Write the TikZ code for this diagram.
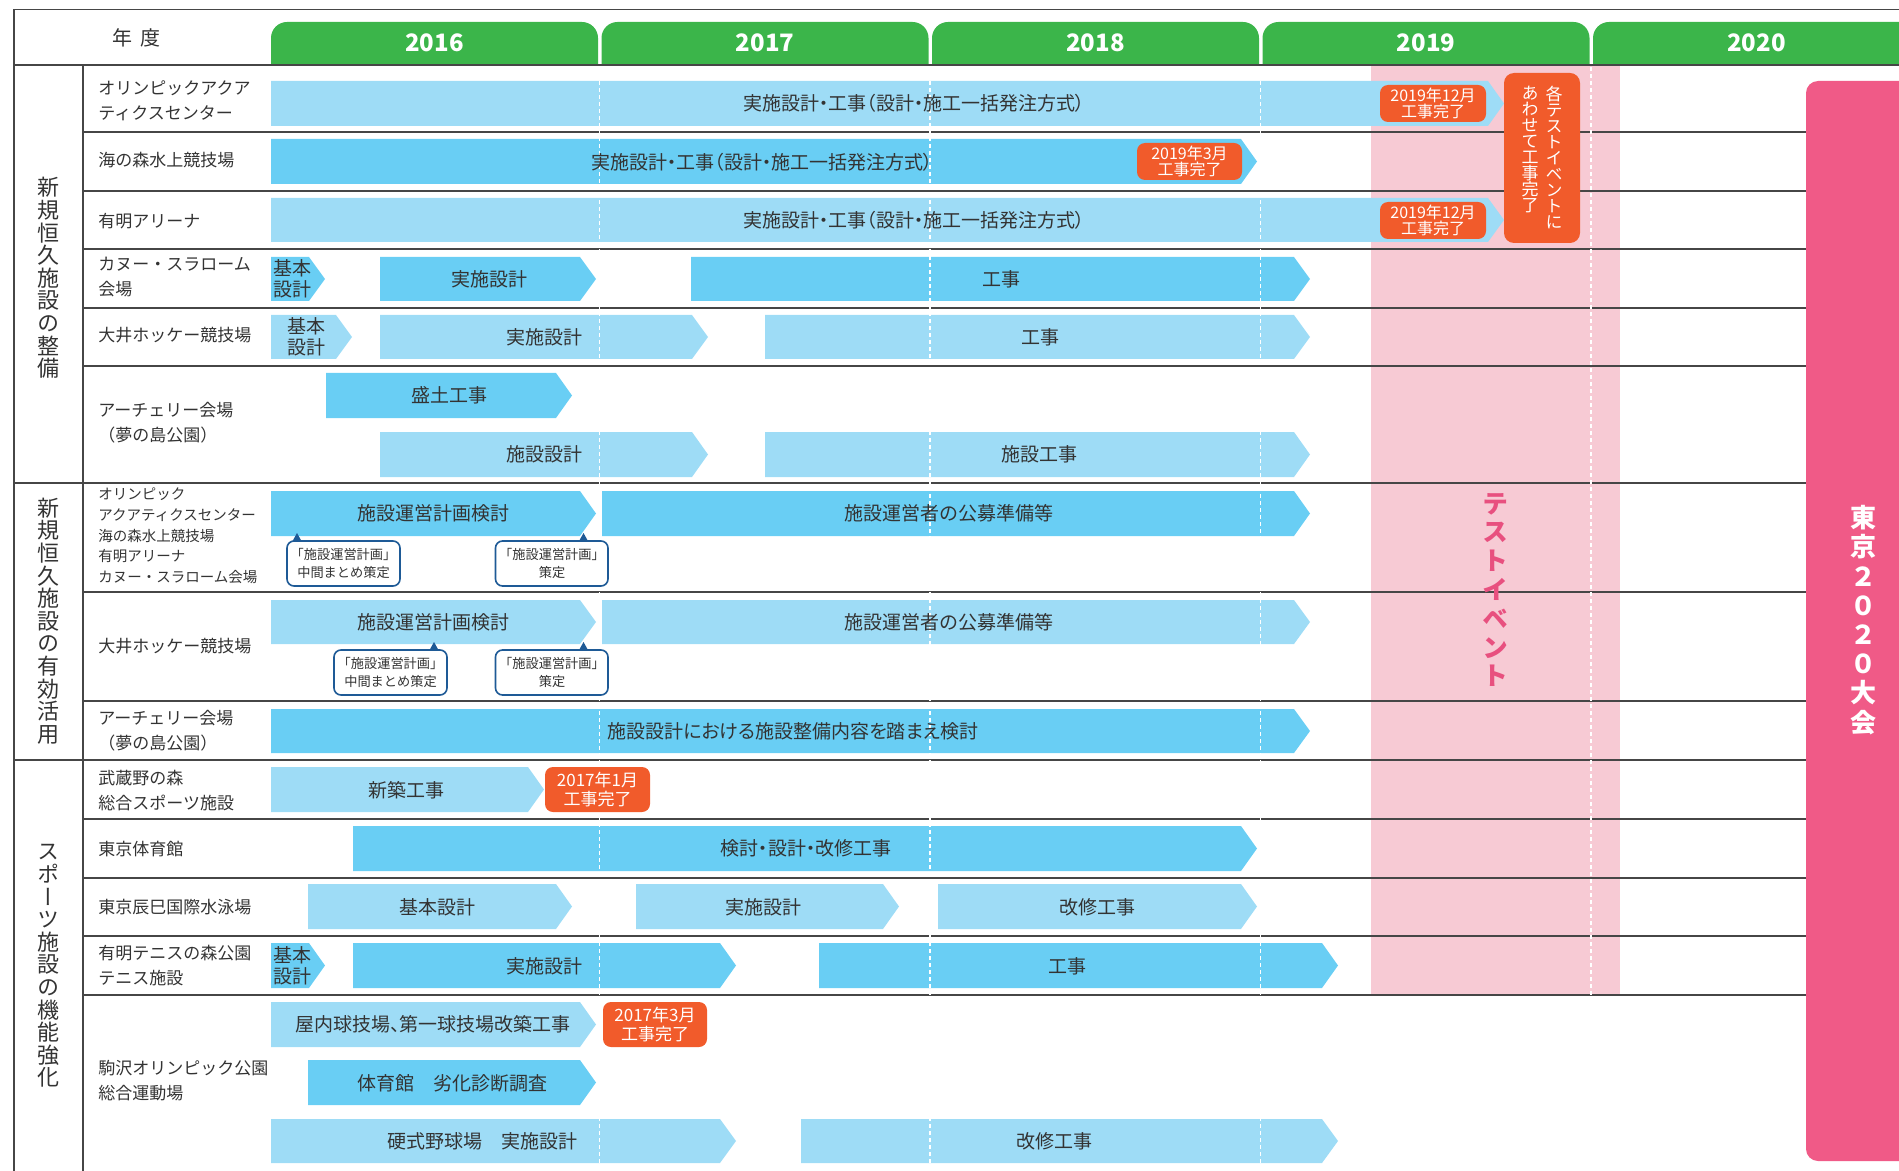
\documentclass[tikz,border=0pt]{standalone}
\usepackage{fontspec}
\setmainfont{Noto Sans CJK JP}
\newfontfamily\paltfont{Noto Sans CJK JP}[RawFeature=+palt]
\newfontfamily\tatefont{Noto Sans CJK JP}[RawFeature=+vert]
\usetikzlibrary{positioning}

\definecolor{yeargreen}{RGB}{59,181,74}
\definecolor{lightbar}{RGB}{158,220,246}
\definecolor{darkbar}{RGB}{105,206,244}
\definecolor{testpink}{RGB}{247,202,212}
\definecolor{gamepink}{RGB}{240,90,135}
\definecolor{eventpink}{RGB}{232,80,127}
\definecolor{doneorange}{RGB}{241,91,43}
\definecolor{noteblue}{RGB}{30,90,150}
\definecolor{txtgray}{RGB}{51,51,51}
\definecolor{rulegray}{RGB}{70,70,70}

% phase bar: colour, left x, x where the point starts, top y, bottom y
\newcommand{\phase}[5]{\fill[#1] (#2,#4) -- (#3,#4) -- ({#3+16},{(#4+#5)/2}) -- (#3,#5) -- (#2,#5) -- cycle;}
% note box: left x, right x, top y, pointer x, pointer tip y
\newcommand{\notebox}[5]{%
  \fill[noteblue] ({#4-5},{#3+1}) -- (#4,#5) -- ({#4+5},{#3+1}) -- cycle;
  \draw[noteblue, line width=0.8pt, fill=white, rounded corners=3.5pt] (#1,#3) rectangle (#2,{#3+45});}

\begin{document}
\begin{tikzpicture}[x=0.5pt, y=-0.5pt]
\tikzstyle{rowlabel}=[anchor=west, inner sep=0, align=left, text=txtgray, font=\fontsize{8.5}{12.5}\selectfont]
\tikzstyle{phasetext}=[inner sep=0, align=center, text=txtgray, font=\paltfont\fontsize{9.5}{10.5}\selectfont]
\tikzstyle{donetext}=[inner sep=0, align=center, text=white, font=\fontsize{8}{7.8}\selectfont]
\tikzstyle{notetext}=[inner sep=0, align=center, text=txtgray, font=\fontsize{6.6}{8.8}\selectfont]
\tikzstyle{category}=[inner sep=0, align=center, text=txtgray, font=\tatefont\fontsize{11}{11.3}\selectfont]
\tikzstyle{yeartext}=[inner sep=0, text=white, font=\fontsize{12}{12}\selectfont\bfseries]
\tikzstyle{rule}=[rulegray, line width=0.6pt]
\tikzstyle{done}=[fill=doneorange, rounded corners=4pt]

\useasboundingbox (0,0) rectangle (1899,1171);

\fill[testpink] (1371,65) rectangle (1620,995);

\foreach \yr [count=\i from 0] in {2016,2017,2018,2019,2020} {
  \fill[yeargreen] ({271+330.5*\i},65) [rounded corners=8pt] -- ({271+330.5*\i},22)
    -- ({598+330.5*\i},22) [sharp corners] -- ({598+330.5*\i},65) -- cycle;
  \node[yeartext] (y\yr) at ({434.5+330.5*\i},43) {\yr};
}
\node[text=txtgray, font=\fontsize{10}{10}\selectfont] (nendo) at (136,38) {年\hspace{4pt}度};

\draw[rule] (14,9.5) -- (1899,9.5);
\draw[rule] (14,9.5) -- (14,1171);
\draw[rule] (14,65) -- (1899,65);
\draw[rule] (83,65) -- (83,1171);
\foreach \y in {132,191,249,308,366,592,701,819,878,936,995}
  \draw[rule] (83,\y) -- (1899,\y);
\foreach \y in {483,760}
  \draw[rule] (14,\y) -- (1899,\y);

\phase{lightbar}{271}{1488}{81}{126}
\phase{darkbar}{271}{1241}{139}{184}
\phase{lightbar}{271}{1488}{198}{242}
\phase{darkbar}{271}{309}{257}{301}
\phase{darkbar}{380}{580}{257}{301}
\phase{darkbar}{691}{1294}{257}{301}
\phase{lightbar}{271}{336}{315}{359}
\phase{lightbar}{380}{692}{315}{359}
\phase{lightbar}{765}{1294}{315}{359}
\phase{darkbar}{326}{556}{373}{418}
\phase{lightbar}{380}{692}{432}{477}
\phase{lightbar}{765}{1294}{432}{477}
\phase{darkbar}{271}{580}{491}{536}
\phase{darkbar}{602}{1294}{491}{536}
\phase{lightbar}{271}{580}{600}{644}
\phase{lightbar}{602}{1294}{600}{644}
\phase{darkbar}{271}{1294}{709}{753}
\phase{lightbar}{271}{528}{767}{812}
\phase{darkbar}{353}{1241}{826}{871}
\phase{lightbar}{308}{556}{884}{929}
\phase{lightbar}{636}{883}{884}{929}
\phase{lightbar}{938}{1241}{884}{929}
\phase{darkbar}{271}{309}{943}{988}
\phase{darkbar}{353}{720}{943}{988}
\phase{darkbar}{819}{1322}{943}{988}
\phase{lightbar}{271}{580}{1002}{1047}
\phase{darkbar}{308}{580}{1060}{1105}
\phase{lightbar}{271}{720}{1119}{1163}
\phase{lightbar}{801}{1322}{1119}{1163}

\foreach \x in {599.5,930,1260.5,1591}
  \draw[white, line width=0.6pt, dash pattern=on 2pt off 1.5pt] (\x,67) -- (\x,1171);

\node[phasetext] (p1) at (914,103) {実施設計・工事（設計・施工一括発注方式）};
\node[phasetext] (p2) at (762,162) {実施設計・工事（設計・施工一括発注方式）};
\node[phasetext] (p3) at (914,220) {実施設計・工事（設計・施工一括発注方式）};
\node[phasetext, anchor=west, align=left] (p4a) at (273,279) {基本\\設計};
\node[phasetext] (p4b) at (489,279) {実施設計};
\node[phasetext] (p4c) at (1001,279) {工事};
\node[phasetext] (p5a) at (306,337) {基本\\設計};
\node[phasetext] (p5b) at (544,337) {実施設計};
\node[phasetext] (p5c) at (1040,337) {工事};
\node[phasetext] (p6a) at (449,395) {盛土工事};
\node[phasetext] (p6b) at (544,454) {施設設計};
\node[phasetext] (p6c) at (1039,454) {施設工事};
\node[phasetext] (p7a) at (433,513) {施設運営計画検討};
\node[phasetext] (p7b) at (949,513) {施設運営者の公募準備等};
\node[phasetext] (p8a) at (433,622) {施設運営計画検討};
\node[phasetext] (p8b) at (949,622) {施設運営者の公募準備等};
\node[phasetext] (p9) at (793,731) {施設設計における施設整備内容を踏まえ検討};
\node[phasetext] (p10) at (406,790) {新築工事};
\node[phasetext] (p11) at (806,848) {検討・設計・改修工事};
\node[phasetext] (p12a) at (437,907) {基本設計};
\node[phasetext] (p12b) at (763,907) {実施設計};
\node[phasetext] (p12c) at (1097,907) {改修工事};
\node[phasetext, anchor=west, align=left] (p13a) at (273,966) {基本\\設計};
\node[phasetext] (p13b) at (544,966) {実施設計};
\node[phasetext] (p13c) at (1067,966) {工事};
\node[phasetext] (p14a) at (433,1024) {屋内球技場、第一球技場改築工事};
\node[phasetext] (p14b) at (452,1083) {体育館　劣化診断調査};
\node[phasetext] (p14c) at (482,1141) {硬式野球場　実施設計};
\node[phasetext] (p14d) at (1054,1141) {改修工事};

\fill[done] (1380,85) rectangle (1486,122);
\node[donetext] (d1) at (1433,103.5) {2019年12月\\工事完了};
\fill[done] (1137,143) rectangle (1242,180);
\node[donetext] (d2) at (1189.5,161.5) {2019年3月\\工事完了};
\fill[done] (1380,202) rectangle (1486,239);
\node[donetext] (d3) at (1433,220.5) {2019年12月\\工事完了};
\fill[done] (545,767) rectangle (650,812);
\node[donetext, font=\fontsize{8.5}{9.3}\selectfont] (d4) at (597.5,789.5) {2017年1月\\工事完了};
\fill[done] (603,1002) rectangle (707,1047);
\node[donetext, font=\fontsize{8.5}{9.2}\selectfont] (d5) at (655,1024.5) {2017年3月\\工事完了};

\fill[done, rounded corners=5pt] (1504,73) rectangle (1580,243);
\node[donetext, anchor=north, font=\tatefont\fontsize{8.5}{8}\selectfont] (d6a) at (1554,86)
  {各\\テ\\ス\\ト\\イ\\ベ\\ン\\ト\\に};
\node[donetext, anchor=north, font=\tatefont\fontsize{8.5}{8}\selectfont] (d6b) at (1530,86)
  {あ\\わ\\せ\\て\\工\\事\\完\\了};

\notebox{287}{400}{541}{297}{533}
\node[notetext] (n1) at (343.5,563.5) {「施設運営計画」\\中間まとめ策定};
\notebox{495.5}{608}{541}{583.5}{533}
\node[notetext] (n2) at (552,563.5) {「施設運営計画」\\策定};
\notebox{334}{447}{650}{434}{642}
\node[notetext] (n3) at (390.5,672.5) {「施設運営計画」\\中間まとめ策定};
\notebox{495.5}{608}{650}{583.5}{642}
\node[notetext] (n4) at (552,672.5) {「施設運営計画」\\策定};

\node[inner sep=0, align=center, text=eventpink, font=\tatefont\fontsize{13}{14.4}\selectfont\bfseries] (test)
  at (1495,590) {テ\\ス\\ト\\イ\\ベ\\ン\\ト};

\fill[gamepink, rounded corners=6pt] (1806,81) rectangle (1930,1161);
\node[inner sep=0, align=center, text=white, font=\tatefont\fontsize{13}{14.6}\selectfont\bfseries] (games)
  at (1863,620) {東\\京\\２\\０\\２\\０\\大\\会};

\node[category] (c1) at (48,278) {新\\規\\恒\\久\\施\\設\\の\\整\\備};
\node[category] (c2) at (48,621) {新\\規\\恒\\久\\施\\設\\の\\有\\効\\活\\用};
\node[category] (c3) at (48,966) {ス\\ポ\\ー\\ツ\\施\\設\\の\\機\\能\\強\\化};

\node[rowlabel] (r1) at (98,101) {オリンピックアクア\\ティクスセンター};
\node[rowlabel] (r2) at (98,160) {海の森水上競技場};
\node[rowlabel] (r3) at (98,221) {有明アリーナ};
\node[rowlabel] (r4) at (98,277) {カヌー・スラローム\\会場};
\node[rowlabel] (r5) at (98,335) {大井ホッケー競技場};
\node[rowlabel] (r6) at (98,423) {アーチェリー会場\\（夢の島公園）};
\node[rowlabel, font=\fontsize{7.25}{10.35}\selectfont] (r7) at (98,536)
  {オリンピック\\アクアティクスセンター\\海の森水上競技場\\有明アリーナ\\カヌー・スラローム会場};
\node[rowlabel] (r8) at (98,646) {大井ホッケー競技場};
\node[rowlabel] (r9) at (98,731) {アーチェリー会場\\（夢の島公園）};
\node[rowlabel] (r10) at (98,791) {武蔵野の森\\総合スポーツ施設};
\node[rowlabel] (r11) at (98,849) {東京体育館};
\node[rowlabel] (r12) at (98,907) {東京辰巳国際水泳場};
\node[rowlabel] (r13) at (98,966) {有明テニスの森公園\\テニス施設};
\node[rowlabel] (r14) at (98,1081) {駒沢オリンピック公園\\総合運動場};
\end{tikzpicture}
\end{document}
